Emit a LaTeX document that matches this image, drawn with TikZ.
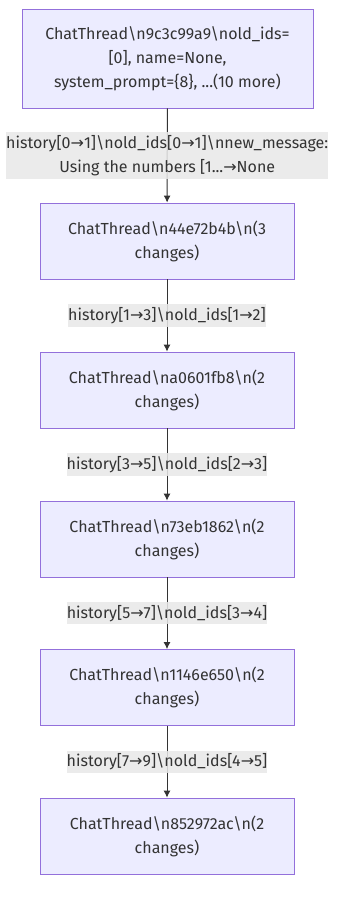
\documentclass[tikz,border=0pt]{standalone}
\usepackage{fontspec}
\usetikzlibrary{arrows.meta}
\setmainfont{Fira Sans}
\newfontfamily\arrowfont{DejaVu Sans}
\newcommand{\ra}{{\arrowfont\char"2192}}
\newcommand{\nl}{\textbackslash n}
\definecolor{boxfill}{HTML}{ECECFF}
\definecolor{boxline}{HTML}{9370DB}
\definecolor{labfill}{HTML}{E8E8E8}
\definecolor{wire}{HTML}{333333}
\tikzset{
	thread/.style={draw=boxline, fill=boxfill, line width=0.8pt, minimum width=254pt,
		minimum height=76pt, align=center, text=wire, font=\fontsize{16}{24}\selectfont},
	edgelab/.style={fill=labfill, fill opacity=0.85, text opacity=1, inner xsep=0pt,
		inner ysep=3pt, align=center, text=wire, font=\fontsize{16}{24}\selectfont},
	flow/.style={draw=wire, line width=1pt, arrows={-Latex[length=7pt,width=7pt]}},
}
\begin{document}
\begin{tikzpicture}[x=1pt,y=-1pt]
	\useasboundingbox (0,0) rectangle (342,902);

	\node [thread, minimum width=291pt, minimum height=99pt] (t0) at (167.5,58.5)
	{ChatThread\nl9c3c99a9\nl old\_ids=\\{[0]}, name=None,\\system\_prompt=\{8\}, ...(10 more)};
	\node [thread] (t1) at (167,241) {ChatThread\nl44e72b4b\nl(3\\changes)};
	\node [thread] (t2) at (167,390) {ChatThread\nl a0601fb8\nl(2\\changes)};
	\node [thread] (t3) at (167,539) {ChatThread\nl73eb1862\nl(2\\changes)};
	\node [thread] (t4) at (167,687.5) {ChatThread\nl1146e650\nl(2\\changes)};
	\node [thread] (t5) at (167,836) {ChatThread\nl852972ac\nl(2\\changes)};

	\draw [flow] (t0) -- node [edgelab]
	{history[0\ra1]\nl old\_ids[0\ra1]\nl new\_message:\\Using the numbers [1...\ra None} (t1);
	\draw [flow] (t1) -- node [edgelab] {history[1\ra3]\nl old\_ids[1\ra2]} (t2);
	\draw [flow] (t2) -- node [edgelab] {history[3\ra5]\nl old\_ids[2\ra3]} (t3);
	\draw [flow] (t3) -- node [edgelab] {history[5\ra7]\nl old\_ids[3\ra4]} (t4);
	\draw [flow] (t4) -- node [edgelab] {history[7\ra9]\nl old\_ids[4\ra5]} (t5);
\end{tikzpicture}
\end{document}
